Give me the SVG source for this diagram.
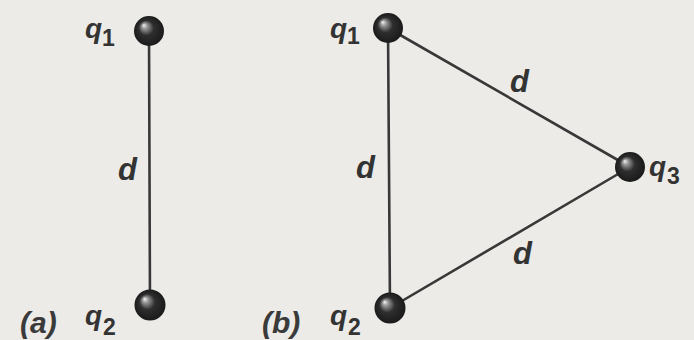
<svg xmlns="http://www.w3.org/2000/svg" width="694" height="340" viewBox="0 0 694 340">
<defs>
<radialGradient id="ball" cx="0.5" cy="0.5" r="0.5" fx="0.32" fy="0.3">
<stop offset="0" stop-color="#f6f6f6"/>
<stop offset="0.18" stop-color="#9a9a9a"/>
<stop offset="0.5" stop-color="#2e2e2e"/>
<stop offset="1" stop-color="#1a1a1a"/>
</radialGradient>
</defs>
<style>
.bg{fill:#ecebe7}
.edge{stroke:#383838;stroke-width:2.6;fill:none;stroke-linecap:round}
.ball{fill:url(#ball)}
.lbl{font-family:"Liberation Sans",Arial,sans-serif;font-style:italic;font-weight:bold;font-size:28px;fill:#333}
.sub{font-family:"Liberation Sans",Arial,sans-serif;font-style:normal;font-weight:bold;font-size:23px;fill:#333}
.d{font-family:"Liberation Sans",Arial,sans-serif;font-style:italic;font-weight:bold;font-size:31px;fill:#333}
.cap{font-family:"Liberation Sans",Arial,sans-serif;font-style:italic;font-weight:bold;font-size:30px;fill:#3a3a3a}
</style>
<rect class="bg" x="0" y="0" width="694" height="340"/>
<g id="connectors">
<line class="edge" x1="149" y1="31" x2="150" y2="305"/>
<line class="edge" x1="388" y1="28" x2="390" y2="308"/>
<line class="edge" x1="388" y1="28" x2="630" y2="167"/>
<line class="edge" x1="390" y1="308" x2="630" y2="167"/>
<text class="d" x="118" y="180">d</text>
<text class="d" x="356" y="178">d</text>
<text class="d" x="510" y="92">d</text>
<text class="d" x="513" y="264">d</text>
</g>
<g id="a-q1">
<circle class="ball" cx="149" cy="31" r="15"/>
<text class="lbl" x="85" y="38">q</text><text class="sub" x="102" y="46">1</text>
</g>
<g id="a-q2">
<circle class="ball" cx="150" cy="305" r="15.5"/>
<text class="lbl" x="85" y="325">q</text><text class="sub" x="103" y="335">2</text>
</g>
<g id="b-q1">
<circle class="ball" cx="388" cy="28" r="15"/>
<text class="lbl" x="330" y="38">q</text><text class="sub" x="347" y="44">1</text>
</g>
<g id="b-q2">
<circle class="ball" cx="390" cy="308" r="15.5"/>
<text class="lbl" x="330" y="325">q</text><text class="sub" x="348" y="335">2</text>
</g>
<g id="b-q3">
<circle class="ball" cx="630" cy="167" r="15"/>
<text class="lbl" x="649" y="176">q</text><text class="sub" x="667" y="184">3</text>
</g>
<g id="captions">
<text class="cap" x="20" y="333">(a)</text>
<text class="cap" x="262" y="333">(b)</text>
</g>
</svg>
